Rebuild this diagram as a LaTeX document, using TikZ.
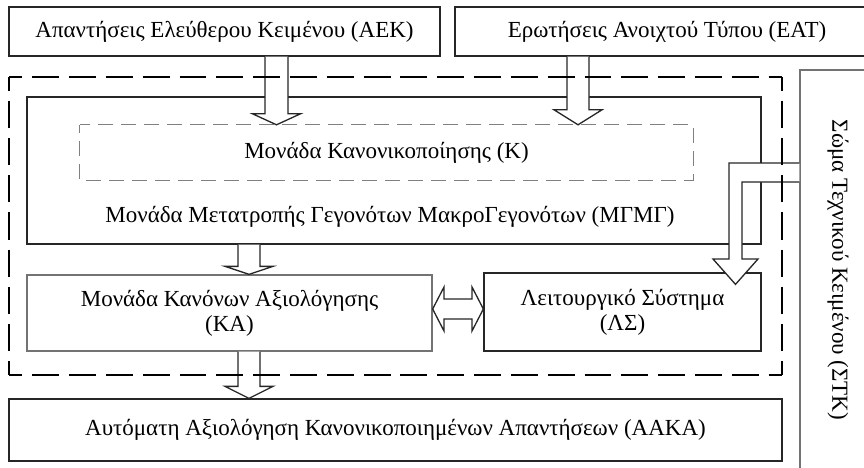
\documentclass[tikz,border=0pt]{standalone}
\usepackage{fontspec}
\setmainfont{Liberation Serif}
\usetikzlibrary{calc}
\newcommand\blockdown[5]{% #1 x centre, #2 from anchor, #3 to anchor, #4 head length, #5 half shaft
  \draw[blk] (#1-#5,0 |- #2) -- ($(#1-#5,0 |- #3)+(0,-#4)$) -- ($(#1-24,0 |- #3)+(0,-#4)$)
    -- (#1,0 |- #3) -- ($(#1+24,0 |- #3)+(0,-#4)$) -- ($(#1+#5,0 |- #3)+(0,-#4)$) -- (#1+#5,0 |- #2);}
\begin{document}
\begin{tikzpicture}[x=1pt,y=-1pt,
  txt/.style={font=\fontsize{23}{25}\selectfont, align=center, inner sep=0pt},
  box/.style={txt, draw=black!85, line width=1.3pt},
  graybox/.style={txt, draw=black!55, line width=1.3pt},
  blk/.style={draw=black!85, line width=1.3pt, fill=white, line join=miter},
  outerh/.style={draw=black, line width=1.7pt, dash pattern=on 26.87pt off 9.94pt, dash phase=13.44pt},
  outerv/.style={draw=black, line width=1.7pt, dash pattern=on 27.19pt off 10.06pt, dash phase=13.6pt},
  kdash/.style={draw=black!50, line width=1.2pt, dash pattern=on 15pt off 8pt, dash phase=7pt},
]
\useasboundingbox (0,0) rectangle (864,468);
\clip (0,0) rectangle (864,468);
% boxes
\node[box, minimum width=431, minimum height=49] (aek) at (224.5,31.5) {Απαντήσεις Ελεύθερου Κειμένου (ΑΕΚ)};
\node[box, minimum width=424, minimum height=49] (eat) at (667,31.5) {Ερωτήσεις Ανοιχτού Τύπου (ΕΑΤ)};
\node[box, minimum width=734, minimum height=147] (mgmg) at (394,170.5) {};
\node[txt] (mgmgl) at (390,217) {Μονάδα Μετατροπής Γεγονότων ΜακροΓεγονότων (ΜΓΜΓ)};
\node[txt, minimum width=613, minimum height=55] (kbox) at (386.5,152.5) {Μονάδα Κανονικοποίησης (Κ)};
\draw[kdash] (kbox.north west) rectangle (kbox.south east);
\node[graybox, minimum width=405, minimum height=76] (ka) at (229.5,313) {Μονάδα Κανόνων Αξιολόγησης\\(ΚΑ)};
\node[box, minimum width=277, minimum height=78] (ls) at (622.5,312) {Λειτουργικό Σύστημα\\(ΛΣ)};
\node[box, minimum width=773, minimum height=62] (aaka) at (395.5,430) {Αυτόματη Αξιολόγηση Κανονικοποιημένων Απαντήσεων (ΑΑΚΑ)};
\node[graybox, rotate=-90, minimum width=400, minimum height=76] (stk) at (838,270) {Σώμα Τεχνικού Κειμένου (ΣΤΚ)};
% block arrows
\blockdown{276.5}{aek.south}{kbox.north}{11}{11.5}
\blockdown{578}{eat.south}{kbox.north}{15}{11}
\blockdown{249}{mgmg.south}{ka.north}{8}{11}
\blockdown{249}{ka.south}{aaka.north}{12}{11}
\draw[blk] (ka.east |- 0,309) -- (444,287) -- (444,299) -- (472,299) -- (472,287)
  -- (ls.west |- 0,309) -- (472,331) -- (472,319) -- (444,319) -- (444,331) -- cycle;
\draw[blk] (stk.south |- 0,163) -- (729,163) -- (729,259) -- (713,259)
  -- ($(735.5,0 |- ls.north)+(0,12)$) -- (758,259) -- (742,259) -- (742,182) -- (stk.south |- 0,182);
% outer dashed frame
\coordinate (onw) at (9,77);
\coordinate (ose) at (782,375);
\draw[outerh] (onw) -- (onw -| ose);
\draw[outerh] (onw |- ose) -- (ose);
\draw[outerv] (onw) -- (onw |- ose);
\draw[outerv] (onw -| ose) -- (ose);
\end{tikzpicture}
\end{document}
